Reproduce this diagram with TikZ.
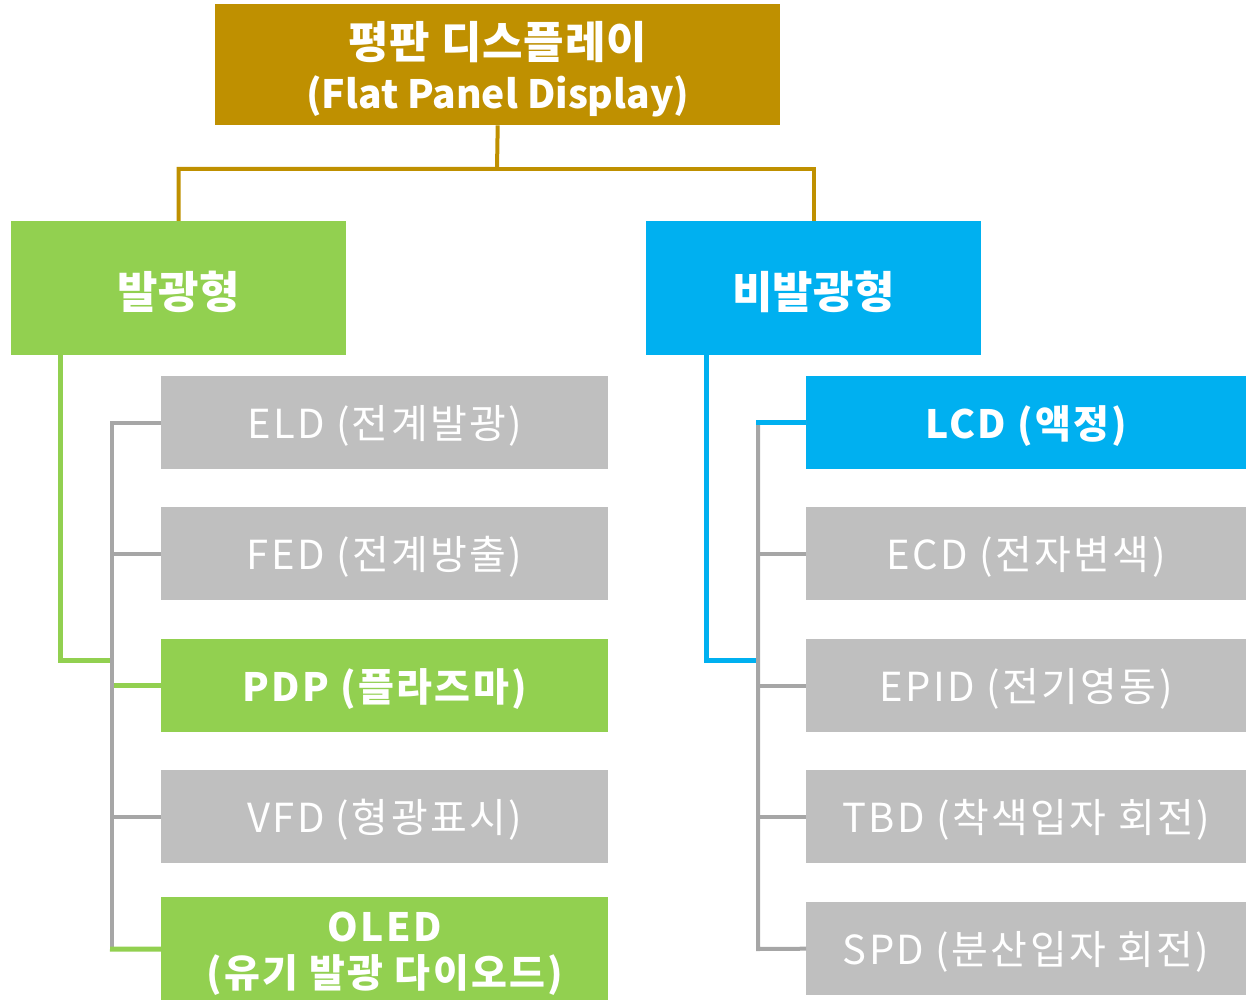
\documentclass[tikz,border=0pt]{standalone}
\usepackage{fontspec}
\setmainfont{Noto Sans CJK KR}
\definecolor{gold}{HTML}{BF9000}
\definecolor{lgreen}{HTML}{92D050}
\definecolor{lblue}{HTML}{00B0F0}
\definecolor{boxgray}{HTML}{BFBFBF}
\definecolor{linegray}{HTML}{A6A6A6}
\newcommand{\dn}[2][-3.5pt]{\raisebox{#1}[\height][\depth]{#2}}
\begin{document}
\begin{tikzpicture}[x=1pt,y=-1pt,
  box/.style={rectangle, inner sep=0pt, anchor=north west, text=white, align=center},
  leaf/.style={box, minimum height=93pt, font=\fontsize{40}{46}\selectfont\addfontfeatures{LetterSpace=6}},
  leafL/.style={leaf, minimum width=447pt},
  leafR/.style={leaf, minimum width=440pt},
  hl/.style={font=\bfseries\fontsize{39}{46}\selectfont\addfontfeatures{LetterSpace=6}},
  mid/.style={box, minimum width=335pt, minimum height=134pt, font=\bfseries\fontsize{44}{50}\selectfont\addfontfeatures{LetterSpace=1}},
  goldline/.style={draw=gold, line width=4pt},
  greenline/.style={draw=lgreen, line width=5pt},
  blueline/.style={draw=lblue, line width=5pt},
  grayline/.style={draw=linegray, line width=4pt}
]
\clip (0,0) rectangle (1246,1000);
\node[box, fill=gold, minimum width=565pt, minimum height=121pt,
  label={[text=white, align=center, yshift=-4pt, font=\bfseries\fontsize{39}{50}\selectfont]center:{{\fontsize{44}{50}\selectfont\addfontfeatures{LetterSpace=2}평판 디스플레이}\\(Flat Panel Display)}}] (top) at (215,4) {};
\node[mid, fill=lgreen] (left) at (11,221) {\dn[-4pt]{발광형}};
\node[mid, fill=lblue] (right) at (646,221) {\dn[-4pt]{비발광형}};

\node[leafL, fill=boxgray] (eld) at (161,376) {\dn{ELD (전계발광)}};
\node[leafL, fill=boxgray] (fed) at (161,507) {\dn{FED (전계방출)}};
\node[leafL, fill=lgreen, hl] (pdp) at (161,639) {\dn{PDP (플라즈마)}};
\node[leafL, fill=boxgray] (vfd) at (161,770) {\dn{VFD (형광표시)}};
\node[leafL, fill=lgreen, minimum height=104pt,
  label={[text=white, align=center, yshift=-5pt, hl]center:{OLED\\(유기 발광 다이오드)}}] (oled) at (161,897) {};

\node[leafR, fill=lblue, hl] (lcd) at (806,376) {\dn{LCD (액정)}};
\node[leafR, fill=boxgray] (ecd) at (806,507) {\dn{ECD (전자변색)}};
\node[leafR, fill=boxgray] (epid) at (806,639) {\dn{EPID (전기영동)}};
\node[leafR, fill=boxgray] (tbd) at (806,770) {\dn{TBD (착색입자 회전)}};
\node[leafR, fill=boxgray] (spd) at (806,902) {\dn{SPD (분산입자 회전)}};

\coordinate (lj) at (112,660);
\coordinate (lbusBot) at (112,949);
\coordinate (rj) at (758,660);
\coordinate (rbusBot) at (758,949);
\coordinate (mid) at (497,169);

% top connectors
\draw[goldline] (top.south) -- (mid) -| (left.north);
\draw[goldline] (mid) -| (right.north);

% left branch
\draw[greenline] ([xshift=49pt]left.south west) |- (lj);
\draw[grayline] (eld.west) -| (lbusBot);
\draw[grayline] (fed.west -| lbusBot) -- (fed.west);
\draw[grayline] (vfd.west -| lbusBot) -- (vfd.west);
\draw[greenline] ([xshift=2pt]pdp.west -| lbusBot) -- (pdp.west);
\draw[greenline] ([xshift=-2pt]lbusBot) -- (oled.west);

% right branch
\draw[blueline] ([xshift=60pt]right.south west) |- (rj);
\draw[grayline] (lcd.west) -| (rbusBot) -- (spd.west);
\draw[grayline] (ecd.west -| rbusBot) -- (ecd.west);
\draw[grayline] (epid.west -| rbusBot) -- (epid.west);
\draw[grayline] (tbd.west -| rbusBot) -- (tbd.west);
\draw[blueline] ([xshift=-2pt]lcd.west -| rbusBot) -- (lcd.west);
\end{tikzpicture}
\end{document}
